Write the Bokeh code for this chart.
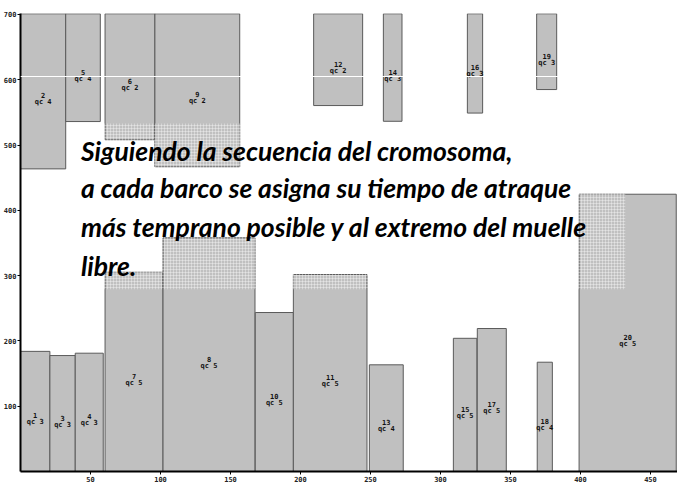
from bokeh.plotting import figure
from bokeh.models import ColumnDataSource, FixedTicker, Span, BoxAnnotation, Label, Range1d
from bokeh.core.properties import value
from bokeh.embed import file_html
from bokeh.resources import INLINE

# ---- data: ship berthing (quay position x, time y) ----
ships = [1, 2, 3, 4, 5, 6, 7, 8, 9, 10, 11, 12, 13, 14, 15, 16, 17, 18, 19, 20]
qcs = [3, 4, 3, 3, 4, 2, 5, 5, 2, 5, 5, 2, 4, 3, 5, 3, 5, 4, 3, 5]
pos_start = [0, 0, 21, 39.1, 32.3, 60.4, 60.4, 101.8, 96, 167.7,
             194.9, 209.4, 249.2, 259.2, 309.2, 319.2, 326.3, 369.1, 368.7, 399]
pos_end = [21, 32.3, 39.1, 59.1, 57, 96, 101.8, 167.5, 156.6, 194.9,
           247.5, 244.4, 273.4, 272.5, 326, 330.1, 347, 379.9, 383, 468.4]
time_start = [0, 463.5, 0, 0, 536, 508, 0, 0, 466.6, 0,
              0, 560.5, 0, 536.4, 0, 549, 0, 0, 585, 0]
time_end = [184, 701, 177.6, 181.2, 701, 701, 305.2, 357.9, 701, 243.5,
            301.7, 701, 163.4, 701, 204, 701, 219, 167.4, 701, 424.7]

x_ticks = [50, 100, 150, 200, 250, 300, 350, 400, 450]
y_ticks = [100, 200, 300, 400, 500, 600, 700]

caption = [
    "Siguiendo la secuencia del cromosoma,",
    "a cada barco se asigna su tiempo de atraque",
    "más temprano posible y al extremo del muelle",
    "libre.",
]

src = ColumnDataSource(dict(
    left=pos_start, right=pos_end, bottom=time_start, top=time_end,
    xc=[(a + b) / 2 for a, b in zip(pos_start, pos_end)],
    yc=[(a + b) / 2 for a, b in zip(time_start, time_end)],
    num=[str(s) for s in ships],
    qc=["qc %d" % q for q in qcs],
))

p = figure(frame_width=657, frame_height=458,
           x_range=Range1d(0, 469.3), y_range=Range1d(0, 701.5),
           output_backend="svg", toolbar_location=None,
           min_border_left=0, min_border_right=0,
           min_border_top=13, min_border_bottom=0)
p.outline_line_color = None
p.grid.visible = False
p.background_fill_color = "white"

p.quad(left="left", right="right", bottom="bottom", top="top", source=src,
       fill_color="#c0c0c0", line_color="#5a5a5a", line_width=1)

p.text(x="xc", y="yc", text="num", source=src, y_offset=4,
       text_align="center", text_baseline="middle",
       text_font=value("DejaVu Sans Mono"), text_font_style="bold",
       text_font_size="7px", text_color="#111111")
p.text(x="xc", y="yc", text="qc", source=src, y_offset=11,
       text_align="center", text_baseline="middle",
       text_font=value("DejaVu Sans Mono"), text_font_style="bold",
       text_font_size="7px", text_color="#111111")

for ax, ticks in ((p.xaxis, x_ticks), (p.yaxis, y_ticks)):
    ax.ticker = FixedTicker(ticks=ticks)
    ax.axis_line_width = 2
    ax.axis_line_color = "black"
    ax.major_tick_out = 3
    ax.major_tick_in = 0
    ax.minor_tick_out = 0
    ax.minor_tick_in = 0
    ax.major_label_text_font = "DejaVu Sans Mono"
    ax.major_label_text_font_style = "bold"
    ax.major_label_text_font_size = "7px"
    ax.major_label_text_color = "#222222"
    ax.major_label_standoff = 1
p.xaxis.major_label_text_align = "left"

# textbox pattern overlay
p.add_layout(BoxAnnotation(left=40, right=432, bottom=279, top=533,
                           fill_alpha=0, line_alpha=0,
                           hatch_pattern="+", hatch_color="white",
                           hatch_alpha=0.35, hatch_scale=3, hatch_weight=1))

p.add_layout(Span(location=605, dimension="width", line_color="white", line_width=1))

baselines = [491, 434, 375, 315]
for line, yb in zip(caption, baselines):
    p.add_layout(Label(x=43.2, y=yb, text=line, text_font="Lato",
                       text_font_style="bold italic", text_font_size="26.5px",
                       text_color="black", text_baseline="alphabetic",
                       text_align="left"))

open("out.html", "w").write(file_html(p, INLINE))
